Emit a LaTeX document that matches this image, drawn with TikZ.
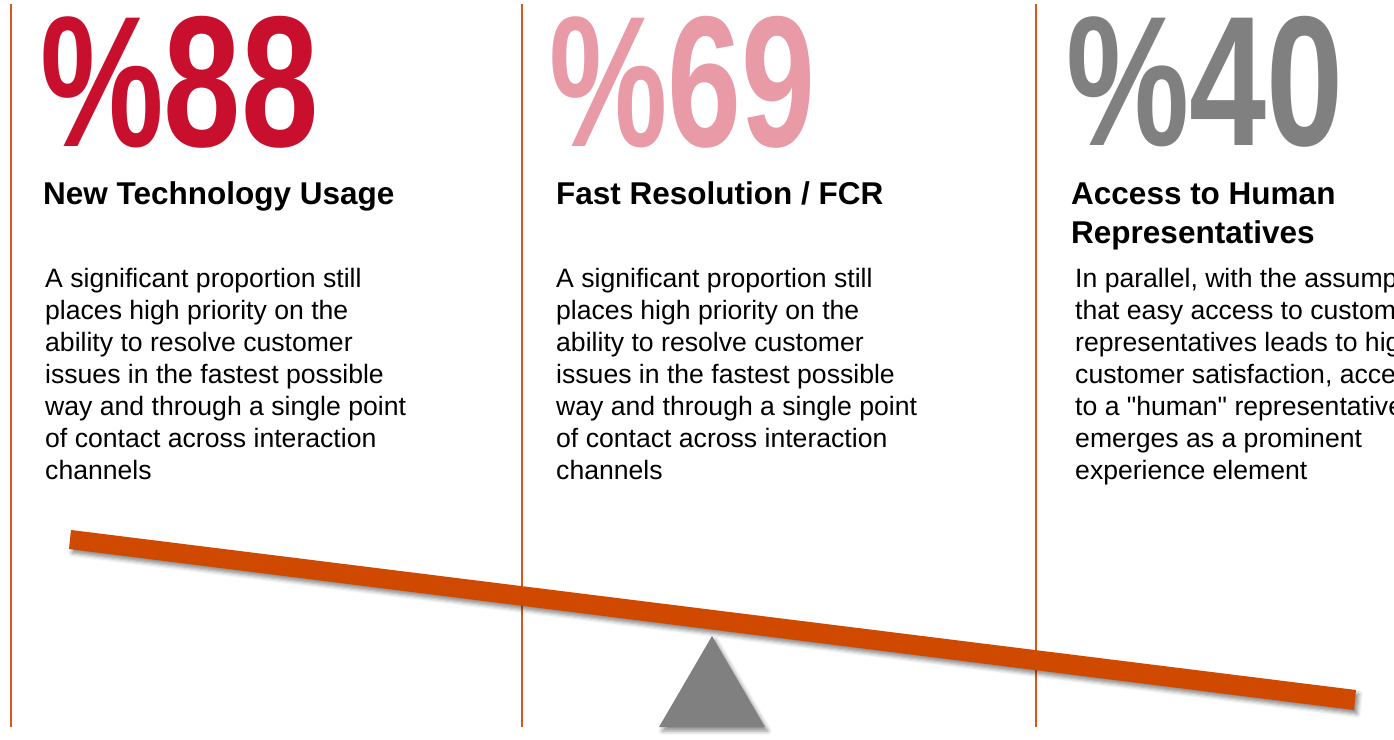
\documentclass[tikz,border=0pt]{standalone}
\usepackage{fontspec}
\setmainfont{Liberation Sans}[Ligatures=TeXOff]
\usetikzlibrary{shadows.blur}

\definecolor{redstat}{HTML}{C8102E}
\definecolor{pinkstat}{HTML}{E89AA6}
\definecolor{graystat}{HTML}{808080}
\definecolor{divider}{HTML}{D9561E}
\definecolor{beam}{HTML}{CF4A00}

\tikzset{
  x=1pt, y=-1pt,
  bigstat/.style={anchor=base west, inner sep=0pt},
  heading/.style={anchor=base west, inner sep=0pt, align=left,
    font=\fontsize{31.5}{38.5}\selectfont\bfseries},
  bodytext/.style={anchor=north west, inner sep=0pt, align=left,
    font=\fontsize{26.6}{32}\selectfont},
  divline/.style={draw=divider, line width=2pt},
  softshadow/.style={blur shadow={shadow xshift=3pt, shadow yshift=-4pt,
    shadow blur radius=4pt, shadow opacity=45}},
}

\newcommand{\statnum}[3]{\resizebox{#1pt}{#2pt}{\bfseries #3}}

\begin{document}
\begin{tikzpicture}
\useasboundingbox (0,0) rectangle (1394,739);
\clip (0,0) rectangle (1394,739);

% column dividers
\draw[divline] (11,4) -- (11,727);
\draw[divline] (522,4) -- (522,727);
\draw[divline] (1036,4) -- (1036,727);

% large percentages
\node[bigstat, text=redstat]  (n88) at (40,146)   {\statnum{278}{130}{\%88}};
\node[bigstat, text=pinkstat] (n69) at (549,146)  {\statnum{266}{130}{\%69}};
\node[bigstat, text=graystat] (n40) at (1066,145) {\statnum{277}{129}{\%40}};

% headings
\node[heading] (h1) at (43,204)   {New Technology Usage};
\node[heading] (h2) at (556,204)  {Fast Resolution / FCR};
\node[heading] (h3) at (1071,243) {Access to Human\\Representatives};

% descriptions
\node[bodytext] (b1) at (45,264.6) {\strut A significant proportion still\\
places high priority on the\\ability to resolve customer\\
issues in the fastest possible\\way and through a single point\\
of contact across interaction\\channels};
\node[bodytext] (b2) at (556,264.6) {\strut A significant proportion still\\
places high priority on the\\ability to resolve customer\\
issues in the fastest possible\\way and through a single point\\
of contact across interaction\\channels};
\node[bodytext] (b3) at (1075,264.6) {\strut In parallel, with the assumption\\
that easy access to customer\\representatives leads to higher\\
customer satisfaction, access\\to a "human" representative\\
emerges as a prominent\\experience element};

% seesaw: fulcrum and tilted beam
\fill[graystat, softshadow] (712,636) -- (765,727) -- (659,727) -- cycle;
\fill[beam, softshadow] (71,530) -- (1356,690) -- (1354,710) -- (69,549) -- cycle;
\end{tikzpicture}
\end{document}
